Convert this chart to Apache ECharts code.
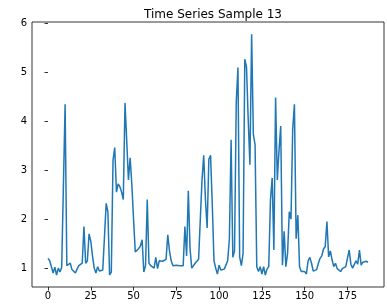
<!DOCTYPE html>
<html>
<head>
<meta charset="utf-8">
<script src="https://cdn.jsdelivr.net/npm/echarts@6/dist/echarts.min.js"></script>
<style>
  html, body { margin: 0; padding: 0; background: #fff; }
  #chart { width: 387px; height: 307px; }
</style>
</head>
<body>
<div id="chart"></div>
<script>
// 时间序列 样本13
var values = [
    1.20, 1.15, 1.14, 0.90, 1.02, 0.86, 1.00, 0.92, 1.02, 1.06,
    4.34, 1.05, 1.03, 1.10, 0.97, 1.00, 0.90, 0.98, 1.05, 1.06,
    1.10, 1.85, 1.10, 1.15, 1.70, 1.55, 1.25, 1.00, 0.90, 1.03,
    0.94, 0.96, 0.96, 0.97, 2.32, 2.15, 0.86, 0.92, 3.20, 3.46,
    2.55, 2.72, 2.66, 2.55, 2.40, 4.37, 3.60, 2.80, 3.25, 2.70,
    2.00, 1.33, 1.36, 1.40, 1.45, 1.58, 0.92, 1.05, 2.40, 1.10,
    1.05, 1.07, 1.00, 1.22, 0.99, 1.15, 1.13, 1.14, 1.15, 1.18,
    1.68, 1.35, 1.15, 1.05, 1.05, 1.06, 1.05, 1.05, 1.03, 1.05,
    1.85, 1.25, 2.58, 1.40, 1.00, 1.03, 1.10, 1.12, 1.18, 1.14,
    2.80, 3.30, 2.40, 1.82, 3.22, 3.30, 2.30, 1.15, 1.00, 0.88,
    1.06, 0.96, 0.99, 0.98, 0.97, 1.15, 1.60, 3.62, 1.22, 1.35,
    4.38, 5.09, 1.23, 1.05, 1.30, 5.26, 5.10, 4.03, 3.11, 5.77,
    3.73, 3.52, 1.03, 0.93, 1.03, 0.88, 1.03, 0.86, 0.98, 1.03,
    2.39, 2.84, 1.37, 4.48, 2.80, 3.40, 3.90, 1.06, 1.75, 1.03,
    1.30, 2.15, 2.00, 3.83, 4.34, 1.60, 2.08, 1.03, 0.93, 0.92,
    0.93, 0.88, 1.15, 1.22, 1.10, 0.94, 0.96, 0.97, 1.10, 1.20,
    1.25, 1.39, 1.44, 1.95, 1.23, 1.35, 1.17, 1.03, 1.10, 0.99,
    1.00, 0.93, 0.99, 0.98, 1.03, 1.02, 1.37, 1.08, 1.00, 1.03,
    1.15, 1.08, 1.37, 1.06, 1.12, 1.10, 1.14, 1.12
];
var xTicks = [0, 25, 50, 75, 100, 125, 150, 175];
var yTicks = [1, 2, 3, 4, 5, 6];

var points = values.map(function (v, i) { return [i, v]; });

var e = echarts.init(document.getElementById('chart'), null, { renderer: 'canvas' });

var option = {
    animation: false,
    title: {
        text: 'Time Series Sample 13',
        left: 208,
        top: 4,
        textAlign: 'center',
        textStyle: {
            fontFamily: 'DejaVu Sans',
            fontSize: 12,
            fontWeight: 'normal',
            color: '#000'
        }
    },
    grid: {
        left: 32,
        right: 3,
        top: 22,
        bottom: 20,
        show: true,
        borderColor: '#000',
        borderWidth: 0.8,
        backgroundColor: 'transparent'
    },
    xAxis: {
        type: 'value',
        min: -9.35,
        max: 196.35,
        splitLine: { show: false },
        axisLine: { show: false },
        axisTick: {
            show: true,
            customValues: xTicks,
            length: 3.5,
            lineStyle: { color: '#000', width: 0.8 }
        },
        axisLabel: {
            customValues: xTicks,
            fontFamily: 'DejaVu Sans',
            fontSize: 10,
            color: '#000',
            margin: 4
        }
    },
    yAxis: {
        type: 'value',
        min: 0.615,
        max: 6.02,
        splitLine: { show: false },
        axisLine: { show: false },
        axisTick: {
            show: true,
            customValues: yTicks,
            length: 3.5,
            lineStyle: { color: '#000', width: 0.8 }
        },
        axisLabel: {
            customValues: yTicks,
            fontFamily: 'DejaVu Sans',
            fontSize: 10,
            color: '#000',
            margin: 5
        }
    },
    series: [
        {
            name: 'Sample 13',
            type: 'line',
            data: points,
            showSymbol: false,
            symbol: 'none',
            lineStyle: { color: '#1f77b4', width: 1.5 }
        }
    ]
};
e.setOption(option);
</script>
</body>
</html>
